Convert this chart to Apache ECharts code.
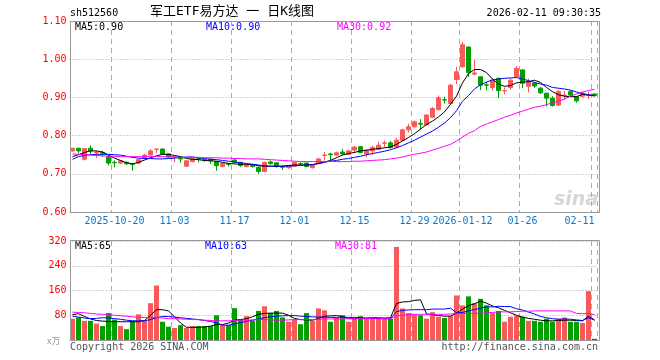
<!DOCTYPE html>
<html><head><meta charset="utf-8">
<script src="https://cdn.jsdelivr.net/npm/echarts@6/dist/echarts.min.js"></script>
<style>html,body{margin:0;padding:0;background:#fff}#c{width:660px;height:360px}</style>
</head><body><div id="c"></div>
<script>
// ---------- data ----------
const dates = [
 '2025-10-09','2025-10-10','2025-10-13','2025-10-14','2025-10-15','2025-10-16','2025-10-17','2025-10-20','2025-10-21','2025-10-22',
 '2025-10-23','2025-10-24','2025-10-27','2025-10-28','2025-10-29','2025-10-30','2025-10-31','2025-11-03','2025-11-04','2025-11-05',
 '2025-11-06','2025-11-07','2025-11-10','2025-11-11','2025-11-12','2025-11-13','2025-11-14','2025-11-17','2025-11-18','2025-11-19',
 '2025-11-20','2025-11-21','2025-11-24','2025-11-25','2025-11-26','2025-11-27','2025-11-28','2025-12-01','2025-12-02','2025-12-03',
 '2025-12-04','2025-12-05','2025-12-08','2025-12-09','2025-12-10','2025-12-11','2025-12-12','2025-12-15','2025-12-16','2025-12-17',
 '2025-12-18','2025-12-19','2025-12-22','2025-12-23','2025-12-24','2025-12-25','2025-12-26','2025-12-29','2025-12-30','2025-12-31',
 '2026-01-05','2026-01-06','2026-01-07','2026-01-08','2026-01-09','2026-01-12','2026-01-13','2026-01-14','2026-01-15','2026-01-16',
 '2026-01-19','2026-01-20','2026-01-21','2026-01-22','2026-01-23','2026-01-26','2026-01-27','2026-01-28','2026-01-29','2026-01-30',
 '2026-02-02','2026-02-03','2026-02-04','2026-02-05','2026-02-06','2026-02-09','2026-02-10','2026-02-11'
];
const opens = [
 0.760,0.767,0.738,0.767,0.755,0.756,0.745,0.730,0.728,0.730,
 0.725,0.728,0.741,0.749,0.764,0.765,0.752,0.743,0.743,0.720,
 0.732,0.740,0.737,0.738,0.732,0.719,0.727,0.736,0.730,0.719,
 0.722,0.717,0.706,0.731,0.729,0.719,0.716,0.720,0.727,0.728,
 0.716,0.727,0.748,0.752,0.749,0.757,0.751,0.762,0.771,0.752,
 0.760,0.764,0.780,0.781,0.770,0.788,0.815,0.823,0.832,0.828,
 0.848,0.868,0.894,0.884,0.947,0.980,1.032,0.961,0.954,0.933,
 0.926,0.950,0.917,0.926,0.955,0.972,0.929,0.937,0.924,0.911,
 0.898,0.880,0.905,0.915,0.902,0.903,0.905,0.909
];
const closes = [
 0.767,0.760,0.766,0.760,0.757,0.754,0.728,0.729,0.734,0.726,
 0.724,0.737,0.749,0.760,0.765,0.752,0.744,0.745,0.739,0.734,
 0.740,0.738,0.735,0.734,0.721,0.727,0.725,0.730,0.722,0.723,
 0.719,0.706,0.730,0.727,0.720,0.717,0.721,0.730,0.726,0.719,
 0.722,0.739,0.749,0.750,0.755,0.752,0.760,0.770,0.756,0.761,
 0.769,0.775,0.781,0.769,0.788,0.815,0.823,0.836,0.830,0.854,
 0.871,0.899,0.893,0.932,0.967,1.038,0.965,0.964,0.932,0.932,
 0.945,0.918,0.918,0.945,0.976,0.937,0.941,0.930,0.912,0.898,
 0.879,0.915,0.906,0.906,0.891,0.911,0.906,0.905
];
const lows = [
 0.758,0.754,0.735,0.752,0.741,0.745,0.722,0.717,0.726,0.723,
 0.708,0.725,0.738,0.747,0.755,0.750,0.742,0.730,0.729,0.718,
 0.730,0.730,0.731,0.726,0.708,0.717,0.719,0.727,0.718,0.717,
 0.716,0.700,0.704,0.724,0.716,0.710,0.713,0.718,0.722,0.717,
 0.714,0.725,0.735,0.735,0.746,0.750,0.749,0.754,0.754,0.743,
 0.750,0.762,0.769,0.766,0.767,0.785,0.808,0.821,0.815,0.826,
 0.846,0.866,0.884,0.882,0.935,0.978,0.954,0.958,0.919,0.919,
 0.918,0.898,0.908,0.920,0.952,0.924,0.913,0.925,0.909,0.876,
 0.876,0.878,0.893,0.902,0.886,0.898,0.896,0.903
];
const highs = [
 0.768,0.768,0.767,0.775,0.760,0.760,0.749,0.735,0.736,0.732,
 0.727,0.740,0.752,0.765,0.765,0.766,0.753,0.747,0.745,0.735,
 0.742,0.742,0.738,0.741,0.733,0.729,0.729,0.739,0.731,0.726,
 0.724,0.719,0.732,0.735,0.730,0.722,0.723,0.732,0.730,0.730,
 0.724,0.741,0.757,0.755,0.758,0.765,0.763,0.772,0.772,0.764,
 0.774,0.784,0.787,0.786,0.795,0.818,0.831,0.840,0.843,0.856,
 0.875,0.905,0.902,0.935,0.980,1.045,1.033,0.998,0.955,0.941,
 0.948,0.952,0.926,0.950,0.982,0.973,0.949,0.941,0.927,0.912,
 0.903,0.920,0.917,0.918,0.903,0.914,0.915,0.910
];
const ma5 = [
 0.745,0.750,0.756,0.760,0.760,0.757,0.749,0.741,0.735,0.729,
 0.726,0.730,0.736,0.742,0.747,0.751,0.751,0.748,0.745,0.740,
 0.738,0.737,0.735,0.734,0.733,0.730,0.727,0.726,0.725,0.725,
 0.724,0.721,0.720,0.720,0.719,0.720,0.722,0.723,0.723,0.723,
 0.724,0.727,0.731,0.735,0.742,0.749,0.753,0.756,0.760,0.762,
 0.764,0.766,0.768,0.770,0.777,0.786,0.795,0.805,0.817,0.829,
 0.838,0.849,0.862,0.882,0.903,0.938,0.962,0.973,0.973,0.965,
 0.948,0.935,0.929,0.931,0.938,0.940,0.941,0.945,0.939,0.926,
 0.915,0.907,0.903,0.902,0.902,0.908,0.906,0.904
];
const ma10 = [
 0.738,0.745,0.748,0.750,0.751,0.751,0.751,0.750,0.749,0.746,
 0.743,0.741,0.740,0.740,0.739,0.739,0.740,0.741,0.743,0.744,
 0.744,0.742,0.740,0.738,0.737,0.735,0.733,0.731,0.729,0.727,
 0.725,0.723,0.721,0.720,0.720,0.720,0.720,0.721,0.722,0.723,
 0.724,0.727,0.730,0.733,0.735,0.738,0.740,0.743,0.746,0.750,
 0.753,0.756,0.759,0.763,0.768,0.774,0.781,0.788,0.796,0.804,
 0.812,0.822,0.833,0.847,0.865,0.890,0.905,0.922,0.933,0.940,
 0.946,0.948,0.950,0.951,0.952,0.948,0.944,0.939,0.935,0.932,
 0.926,0.924,0.922,0.919,0.914,0.910,0.907,0.904
];
const ma30 = [
 0.752,0.751,0.750,0.749,0.748,0.747,0.746,0.746,0.745,0.745,
 0.745,0.745,0.745,0.745,0.745,0.745,0.744,0.744,0.743,0.743,
 0.743,0.743,0.742,0.742,0.742,0.741,0.741,0.740,0.740,0.739,
 0.739,0.739,0.738,0.737,0.736,0.735,0.734,0.733,0.732,0.732,
 0.732,0.732,0.732,0.732,0.732,0.732,0.732,0.733,0.733,0.734,
 0.735,0.736,0.737,0.739,0.741,0.744,0.748,0.751,0.754,0.757,
 0.762,0.767,0.772,0.777,0.786,0.796,0.806,0.813,0.824,0.830,
 0.836,0.842,0.848,0.853,0.859,0.864,0.869,0.874,0.877,0.881,
 0.886,0.890,0.896,0.903,0.909,0.914,0.918,0.921
];
const volumes = [
 69,73,62,62,53,45,87,66,45,35,
 62,83,62,119,176,59,43,39,48,39,
 45,45,45,45,80,48,48,103,66,77,
 62,94,109,87,94,73,59,66,51,87,
 62,102,96,59,73,80,59,73,77,71,
 71,71,71,69,301,102,87,83,80,69,
 90,75,71,77,144,112,141,119,133,112,
 87,94,59,75,79,75,62,62,59,69,
 59,69,73,59,59,55,158,4
];
const volMa5 = [
 82,85,76,68,63,61,60,59,59,59,
 59,59,63,80,98,98,94,75,55,41,
 41,41,42,45,50,50,55,64,66,69,
 75,83,86,87,87,87,80,70,66,65,
 64,70,77,78,79,76,69,69,70,71,
 72,72,71,72,118,123,124,128,130,84,
 82,79,77,77,87,100,111,117,126,119,
 110,104,96,88,80,74,70,67,64,62,
 62,63,64,64,63,62,77,65
];
const volMa10 = [
 77,74,71,69,70,72,71,69,67,64,
 62,62,62,66,72,76,76,74,72,70,
 68,66,63,60,55,48,48,52,56,60,
 64,68,72,75,77,78,79,79,77,76,
 75,74,74,73,73,74,73,73,72,70,
 70,69,69,69,92,96,97,98,98,98,
 100,100,100,103,88,89,94,98,103,107,
 107,109,108,108,101,97,90,84,76,72,
 69,67,68,67,65,63,72,64
];
const volMa30 = [
 90,89,88,86,84,83,82,80,78,77,
 75,73,73,73,73,71,69,69,68,67,
 66,66,64,63,62,62,62,63,64,64,
 65,66,66,65,64,64,65,66,66,66,
 66,67,68,68,68,68,69,69,69,69,
 69,69,69,69,78,80,82,83,83,83,
 83,83,83,84,85,86,86,86,87,88,
 89,91,91,91,92,93,93,94,94,94,
 94,94,94,94,86,85,86,82
];
const tickDates = ['2025-10-20','2025-11-03','2025-11-17','2025-12-01','2025-12-15','2025-12-29','2026-01-12','2026-01-26','2026-02-11'];
const tickTexts = ['2025-10-20','11-03','11-17','12-01','12-15','12-29','2026-01-12','01-26','02-11'];
const priceLegend = ['MA5:0.90','MA10:0.90','MA30:0.92'];
const volLegend = ['MA5:65','MA10:63','MA30:81'];
const headerCode = 'sh512560';
const headerTitle = '军工ETF易方达 一 日K线图';
const headerTime = '2026-02-11 09:30:35';

// ---------- chart ----------
const MONO = '"DejaVu Sans Mono","Liberation Mono",monospace';
const RED = '#f65a5a', GREEN = '#00a000';
const MA_COLORS = ['#000000', '#0000ff', '#ff00ff'];
const L = 69.5, W = 528;
const tickMap = new Map(tickDates.map((d, k) => [d, tickTexts[k]]));
const tickIdx = new Set(dates.map((d, i) => tickMap.has(d) ? i : -1).filter(i => i >= 0));
const lastIdx = dates.length - 1;
const xCats = dates.map((d, i) => (i === lastIdx && tickMap.has(d)) ? { value: d, textStyle: { align: 'right' } } : d);
const candleData = dates.map((d, i) => [opens[i], closes[i], lows[i], highs[i]]);
const volData = volumes.map((v, i) => ({ value: v, itemStyle: { color: closes[i] >= opens[i] ? RED : GREEN } }));

function xAxisCfg(gi, showLabel) {
  return {
    type: 'category', gridIndex: gi, data: xCats, boundaryGap: true,
    axisLine: { show: false }, axisTick: { show: false },
    axisLabel: { show: showLabel, interval: (i) => tickIdx.has(i), formatter: (v) => tickMap.get(v) || '',
      color: '#0a78c8', fontFamily: MONO, fontSize: 10, margin: 4 },
    splitLine: { show: true, interval: (i) => tickIdx.has(i), lineStyle: { color: '#aaaaaa', type: [5, 4], width: 1 } }
  };
}
function yAxisCfg(gi, min, max, interval, fmt) {
  return {
    type: 'value', gridIndex: gi, min, max, interval, position: 'left',
    axisLine: { show: false }, axisTick: { show: false },
    axisLabel: { color: '#ff0000', fontFamily: MONO, fontSize: 10, margin: 3, formatter: fmt },
    splitLine: { show: true, lineStyle: { color: '#aaaaaa', type: [1, 2], width: 1 } }
  };
}
function maLine(name, data, color, xi, yi) {
  return { name, type: 'line', data, xAxisIndex: xi, yAxisIndex: yi, symbol: 'none', silent: true,
    lineStyle: { color, width: 1 }, itemStyle: { color }, z: 5 };
}
function txt(x, y, text, color, opts) {
  return Object.assign({ type: 'text', x, y, silent: true, style: Object.assign({ text, fill: color, font: '10px ' + MONO, textVerticalAlign: 'middle', verticalAlign: 'middle' }, opts || {}) });
}

const chart = echarts.init(document.getElementById('c'));
chart.setOption({
  animation: false,
  backgroundColor: '#ffffff',
  grid: [
    { left: L, width: W, top: 21, height: 191, show: false },
    { left: L, width: W, top: 241, height: 99, show: false }
  ],
  xAxis: [xAxisCfg(0, true), xAxisCfg(1, false)],
  yAxis: [
    yAxisCfg(0, 0.6, 1.1, 0.1, (v) => v.toFixed(2)),
    yAxisCfg(1, 0, 320, 80, (v) => v === 0 ? '' : String(v))
  ],
  series: [
    { type: 'candlestick', data: candleData, xAxisIndex: 0, yAxisIndex: 0, barWidth: 4,
      itemStyle: { color: RED, color0: GREEN, borderColor: RED, borderColor0: GREEN, borderWidth: 1 } },
    maLine('MA5', ma5, MA_COLORS[0], 0, 0),
    maLine('MA10', ma10, MA_COLORS[1], 0, 0),
    maLine('MA30', ma30, MA_COLORS[2], 0, 0),
    { type: 'bar', data: volData, xAxisIndex: 1, yAxisIndex: 1, barWidth: 5 },
    maLine('VMA5', volMa5, MA_COLORS[0], 1, 1),
    maLine('VMA10', volMa10, MA_COLORS[1], 1, 1),
    maLine('VMA30', volMa30, MA_COLORS[2], 1, 1)
  ],
  graphic: [
    { type: 'rect', silent: true, z: 100, shape: { x: 70.5, y: 21.5, width: 529, height: 191 }, style: { fill: 'none', stroke: '#999999', lineWidth: 1 } },
    { type: 'rect', silent: true, z: 100, shape: { x: 70.5, y: 240.5, width: 529, height: 100 }, style: { fill: 'none', stroke: '#999999', lineWidth: 1 } },
    txt(70, 13, headerCode, '#000'),
    txt(150, 12, headerTitle, '#000', { font: '13px "DejaVu Sans Mono", "Noto Sans CJK SC", sans-serif' }),
    txt(601, 13, headerTime, '#000', { textAlign: 'right', align: 'right' }),
    txt(75, 27, priceLegend[0], MA_COLORS[0]),
    txt(206, 27, priceLegend[1], MA_COLORS[1]),
    txt(337, 27, priceLegend[2], MA_COLORS[2]),
    txt(75, 246, volLegend[0], MA_COLORS[0]),
    txt(205, 246, volLegend[1], MA_COLORS[1]),
    txt(335, 246, volLegend[2], MA_COLORS[2]),
    txt(47, 341, 'x万', '#999', { font: '9px "Noto Sans CJK SC", sans-serif' }),
    txt(70, 347, 'Copyright 2026 SINA.COM', '#555'),
    txt(598, 347, 'http://finance.sina.com.cn', '#555', { textAlign: 'right', align: 'right' }),
    txt(576, 200, 'sina', '#d6d6d6', { font: 'italic bold 19px "DejaVu Sans", sans-serif', textAlign: 'center', align: 'center' })
  ]
});
</script></body></html>
